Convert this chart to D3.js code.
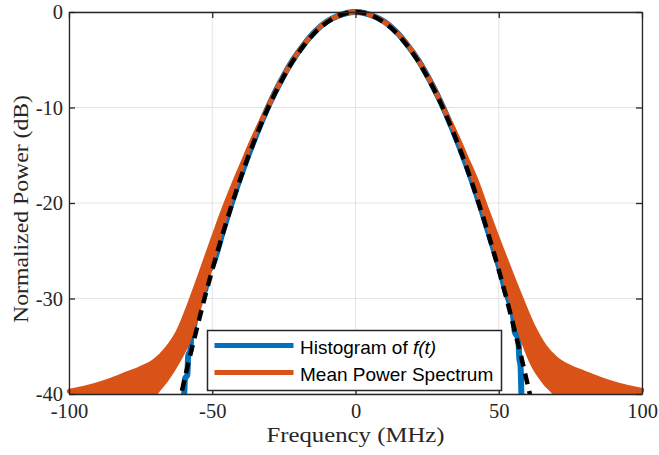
<!DOCTYPE html>
<html>
<head>
<meta charset="utf-8">
<script src="https://cdn.jsdelivr.net/npm/d3@7"></script>
<style>
  body { margin: 0; background: #fff; }
  svg { display: block; }
</style>
</head>
<body>
<svg id="chart" width="659" height="455"></svg>
<script>
// ticks
const xTicks = [-100, -50, 0, 50, 100];
const yTicks = [0, -10, -20, -30, -40];

// black dashed fit
const fitFreq = [-62, -60, -58, -56, -54, -52, -50, -46, -42, -38, -34, -30, -26, -22, -18, -14, -10, -6, -3, 0,
  3, 6, 10, 14, 18, 22, 26, 30, 34, 38, 42, 46, 50, 52, 54, 56, 58, 60, 62];
const fitDb = [-41.5, -38.9, -36.3, -33.9, -31.5, -29.2, -27.0, -22.9, -19.1, -15.6, -12.5, -9.7, -7.3, -5.2, -3.5, -2.1, -1.1, -0.4, -0.1, 0,
  -0.1, -0.4, -1.1, -2.1, -3.5, -5.2, -7.3, -9.7, -12.5, -15.6, -19.1, -22.9, -27.0, -29.2, -31.5, -33.9, -36.3, -38.9, -41.5];

// histogram of f(t)
const histFreq = [-60.6, -59.8, -59.5, -58.7, -58.4, -57.6, -57.3, -56.4, -55.6, -54.2, -53, -52.2, -51.8, -50, -46, -42, -38, -34, -30, -26, -22, -18, -14, -10, -6, -3, 0,
  3, 6, 10, 14, 18, 22, 26, 30, 34, 38, 42, 46, 50, 50.8, 52, 53.5, 55, 55.6, 56.8, 57.2, 57.6, 57.9, 58.1];
const histDb = [-42, -40, -38.4, -38, -36, -35.4, -33.6, -33, -31.4, -30.2, -29.4, -28.8, -27.4, -26.6, -22.7, -18.9, -15.5, -12.4, -9.6, -7.2, -5.1, -3.4, -2.0, -1.0, -0.4, -0.1, 0,
  -0.1, -0.4, -1.0, -2.0, -3.4, -5.1, -7.2, -9.6, -12.4, -15.5, -18.9, -22.7, -26.6, -27.4, -28.9, -30.2, -31.8, -33.5, -34.2, -36.3, -37.0, -40, -42];

// mean power spectrum: oscillates between an upper and lower envelope
const psdFreq = [-100, -95, -90, -85, -80, -75, -70, -66, -62, -58, -54, -50, -46, -42, -38, -34, -30, -26, -22, -18, -14, -10, -6, -3, 0,
  3, 6, 10, 14, 18, 22, 26, 30, 34, 38, 42, 46, 50, 54, 58, 62, 66, 70, 75, 80, 85, 90, 95, 100];
const psdUpper = [-39.7, -39.4, -39.0, -38.5, -37.9, -37.3, -36.5, -35.3, -33.5, -30.6, -27.3, -23.9, -20.6, -17.6, -14.8, -12.1, -9.6, -7.2, -5.1, -3.4, -2.0, -1.0, -0.4, -0.1, 0,
  -0.1, -0.4, -1.0, -2.0, -3.4, -5.1, -7.2, -9.6, -12.1, -14.8, -17.5, -20.8, -24.0, -27.1, -30.1, -32.9, -35.0, -36.3, -37.2, -37.8, -38.4, -38.9, -39.3, -39.6];
const psdLower = [-48, -48, -48, -47, -45, -42.6, -40.0, -38.5, -36.6, -34.2, -30.4, -26.2, -22.0, -18.3, -14.8, -12.1, -9.6, -7.2, -5.1, -3.4, -2.0, -1.0, -0.4, -0.1, 0,
  -0.1, -0.4, -1.0, -2.0, -3.4, -5.1, -7.2, -9.6, -12.1, -14.8, -18.3, -22.1, -26.0, -30.0, -34.0, -37.0, -38.8, -40.1, -42.6, -45, -47, -48, -48, -48];

const legendLabels = ["Histogram of ", "Mean Power Spectrum"];

const blue = "#0072BD", orange = "#D95319", axisCol = "#262626";

const svg = d3.select("#chart");
const margin = {top: 12, right: 17, bottom: 61, left: 69};
const width = 659 - margin.left - margin.right;
const height = 455 - margin.top - margin.bottom;

const x = d3.scaleLinear().domain([-100, 100]).range([0, width]);
const y = d3.scaleLinear().domain([-40, 0]).range([height, 0]);

const g = svg.append("g").attr("transform", `translate(${margin.left},${margin.top})`);

// grid
g.append("g").selectAll("line").data(xTicks).join("line")
  .attr("x1", d => x(d)).attr("x2", d => x(d)).attr("y1", 0).attr("y2", height)
  .attr("stroke", "#e3e3e3").attr("stroke-width", 1);
g.append("g").selectAll("line").data(yTicks).join("line")
  .attr("y1", d => y(d)).attr("y2", d => y(d)).attr("x1", 0).attr("x2", width)
  .attr("stroke", "#e3e3e3").attr("stroke-width", 1);

svg.append("defs").append("clipPath").attr("id", "clip")
  .append("rect").attr("x", -3).attr("y", -4).attr("width", width + 6).attr("height", height + 4);

const plot = g.append("g").attr("clip-path", "url(#clip)");

const line = (xs, ys) => d3.line().curve(d3.curveMonotoneX)
  .x((d, i) => x(xs[i])).y((d, i) => y(ys[i]))(xs);

// histogram
plot.append("path").attr("d", line(histFreq, histDb))
  .attr("fill", "none").attr("stroke", blue).attr("stroke-width", 6)
  .attr("stroke-linejoin", "round").attr("stroke-linecap", "round");

// mean power spectrum band
const band = d3.area().curve(d3.curveMonotoneX)
  .x((d, i) => x(psdFreq[i])).y0((d, i) => y(psdLower[i])).y1((d, i) => y(psdUpper[i]));
plot.append("path").attr("d", band(psdFreq)).attr("fill", orange);
[psdUpper, psdLower].forEach(arr => {
  plot.append("path").attr("d", line(psdFreq, arr))
    .attr("fill", "none").attr("stroke", orange).attr("stroke-width", 4.5)
    .attr("stroke-linejoin", "round").attr("stroke-linecap", "round");
});

// fit
plot.append("path").attr("d", line(fitFreq, fitDb))
  .attr("fill", "none").attr("stroke", "#000").attr("stroke-width", 4.5)
  .attr("stroke-dasharray", "11,7");

// axes
const fmt = d => String(d);
const serif = "'Liberation Serif', 'Times New Roman', serif";

const xAxis = g.append("g").attr("transform", `translate(0,${height})`)
  .call(d3.axisBottom(x).tickValues(xTicks).tickFormat(fmt).tickSizeInner(-6).tickSizeOuter(0).tickPadding(9));
const yAxis = g.append("g")
  .call(d3.axisLeft(y).tickValues(yTicks).tickFormat(fmt).tickSizeInner(-6).tickSizeOuter(0).tickPadding(6));
const xTop = g.append("g")
  .call(d3.axisTop(x).tickValues(xTicks).tickFormat("").tickSizeInner(-6).tickSizeOuter(0));
const yRight = g.append("g").attr("transform", `translate(${width},0)`)
  .call(d3.axisRight(y).tickValues(yTicks).tickFormat("").tickSizeInner(-6).tickSizeOuter(0));

[xAxis, yAxis, xTop, yRight].forEach(a => {
  a.select(".domain").attr("stroke", axisCol).attr("stroke-width", 1.3);
  a.selectAll(".tick line").attr("stroke", axisCol).attr("stroke-width", 1.3);
  a.selectAll("text").attr("fill", axisCol).style("font-family", serif).style("font-size", "20.5px");
});

// axis labels
g.append("text").attr("x", width / 2).attr("y", height + 48)
  .attr("text-anchor", "middle").attr("fill", axisCol)
  .attr("textLength", 178).attr("lengthAdjust", "spacingAndGlyphs")
  .style("font-family", serif).style("font-size", "21px")
  .text("Frequency (MHz)");
svg.append("text").attr("transform", "translate(28,209) rotate(-90)")
  .attr("text-anchor", "middle").attr("fill", axisCol)
  .attr("textLength", 228).attr("lengthAdjust", "spacingAndGlyphs")
  .style("font-family", serif).style("font-size", "21px")
  .text("Normalized Power (dB)");

// legend
const sans = "'Liberation Sans', Arial, Helvetica, sans-serif";
const legend = svg.append("g").attr("transform", "translate(207.5,330.5)");
legend.append("rect").attr("width", 294).attr("height", 60)
  .attr("fill", "#fff").attr("stroke", axisCol).attr("stroke-width", 1.5);
[blue, orange].forEach((c, i) => {
  const yy = 15 + i * 27;
  legend.append("line").attr("x1", 7).attr("x2", 86).attr("y1", yy).attr("y2", yy)
    .attr("stroke", c).attr("stroke-width", 5);
  const t = legend.append("text").attr("x", 92.5).attr("y", yy + 8.5)
    .attr("fill", "#000").style("font-family", sans).style("font-size", "19px")
    .text(legendLabels[i]);
  if (i === 0) t.append("tspan").style("font-style", "italic").text("f(t)");
});
</script>
</body>
</html>
